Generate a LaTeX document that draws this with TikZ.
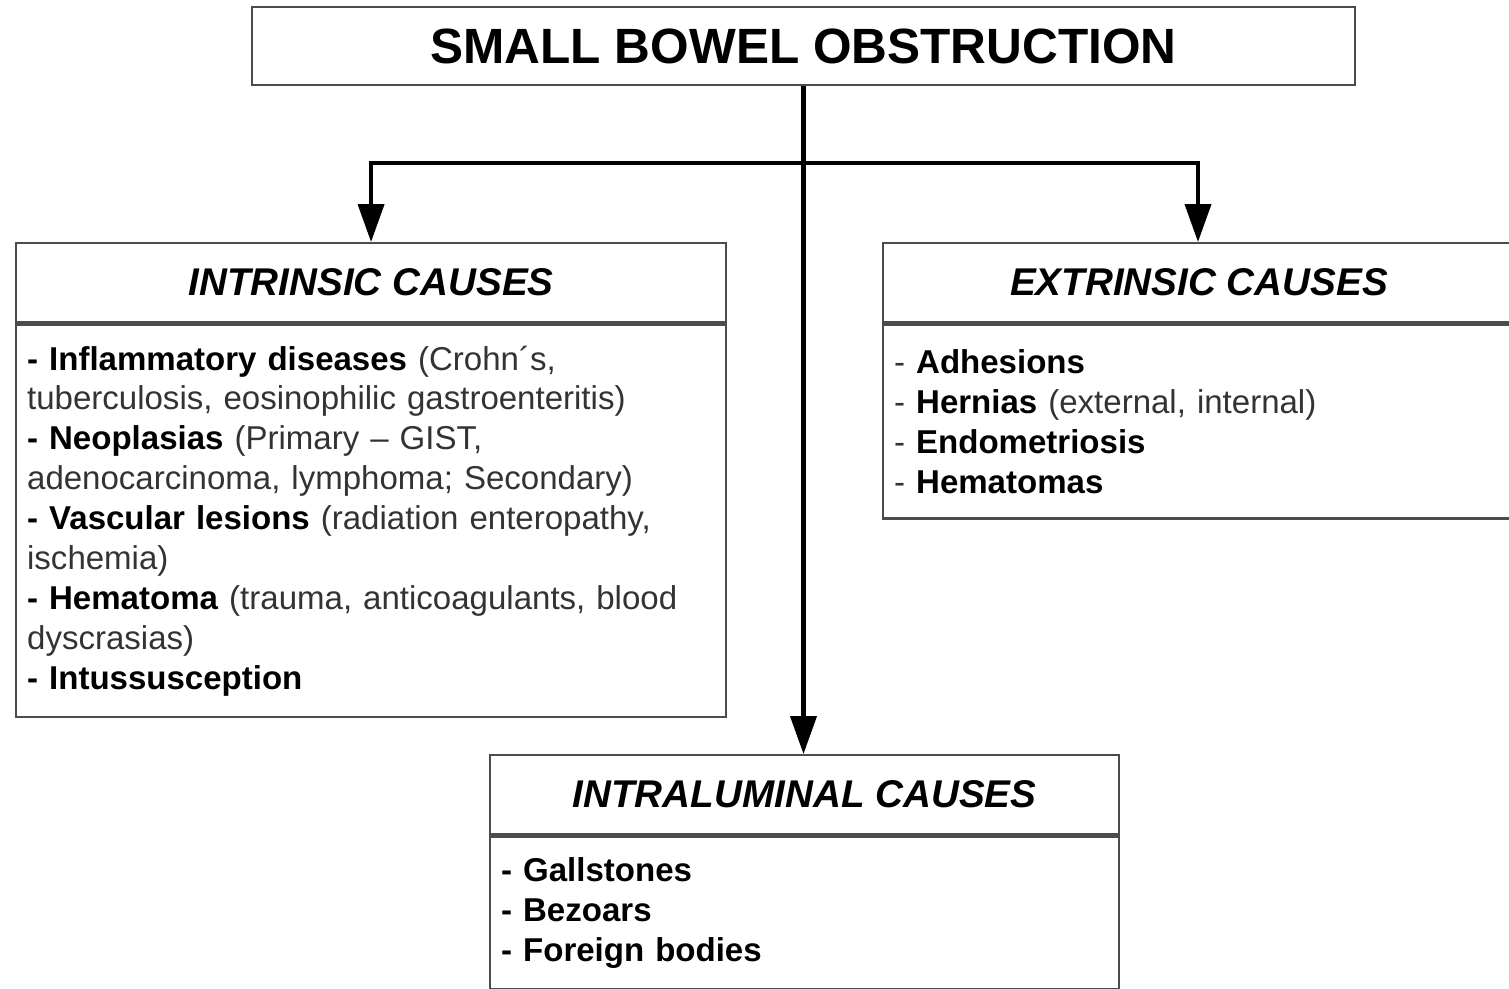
\documentclass[tikz,border=0pt]{standalone}
\usepackage{fontspec}
\setmainfont{Liberation Sans}
\usetikzlibrary{arrows.meta,positioning}

\tikzset{
  boxline/.style={draw=black!70, line width=1.3pt, fill=white},
  titlebox/.style={boxline, minimum width=22.06cm, minimum height=1.56cm, inner sep=0pt,
    font=\fontsize{28.2}{30}\selectfont\bfseries},
  headbox/.style={boxline, anchor=north west, minimum height=1.58cm, inner sep=0pt,
    font=\fontsize{22}{24}\selectfont\bfseries\itshape},
  listbox/.style={boxline, anchor=north west, align=left, inner xsep=0.22cm, inner ysep=0pt,
    text=black!80, font=\fontsize{18.8}{22.7}\selectfont},
  link/.style={line width=2.3pt, -{Triangle[length=0.76cm,width=0.52cm]}}
}
\newcommand{\itm}[1]{\textcolor{black}{\textbf{- #1}}}

\begin{document}
\begin{tikzpicture}[x=0.02cm,y=-0.02cm]
\useasboundingbox (0,0) rectangle (1509,988);

% top box
\node[titlebox] (sbo) at (803.5,46) {SMALL BOWEL OBSTRUCTION};

% intrinsic
\node[headbox, minimum width=14.2cm] (intrHead) at (15,242) {INTRINSIC CAUSES};
\node[listbox, text width=13.76cm, minimum height=7.86cm] (intrList) at (intrHead.south west)
  {\itm{Inflammatory diseases} (Crohn\textasciiacute s,\\
   tuberculosis, eosinophilic gastroenteritis)\\
   \itm{Neoplasias} (Primary -- GIST,\\
   adenocarcinoma, lymphoma; Secondary)\\
   \itm{Vascular lesions} (radiation enteropathy,\\
   ischemia)\\
   \itm{Hematoma} (trauma, anticoagulants, blood\\
   dyscrasias)\\
   \itm{Intussusception}};

% extrinsic
\node[headbox, minimum width=12.64cm] (extrHead) at (882,242) {EXTRINSIC CAUSES};
\node[listbox, text width=12.2cm, minimum height=3.88cm] (extrList) at (extrHead.south west)
  {- \textcolor{black}{\textbf{Adhesions}}\\
   - \textcolor{black}{\textbf{Hernias}} (external, internal)\\
   - \textcolor{black}{\textbf{Endometriosis}}\\
   - \textcolor{black}{\textbf{Hematomas}}};

% intraluminal
\node[headbox, minimum width=12.58cm] (intlHead) at (489,754) {INTRALUMINAL CAUSES};
\node[listbox, text width=12.14cm, minimum height=3.05cm] (intlList) at (intlHead.south west)
  {\itm{Gallstones}\\
   \itm{Bezoars}\\
   \itm{Foreign bodies}};

% connectors
\coordinate (split) at (803.5,163);
\draw[link] (sbo.south) -- (intlHead.north -| sbo.south);
\draw[link] (split) -| (intrHead.north);
\draw[link] (split) -| (1198,242);
\end{tikzpicture}
\end{document}
